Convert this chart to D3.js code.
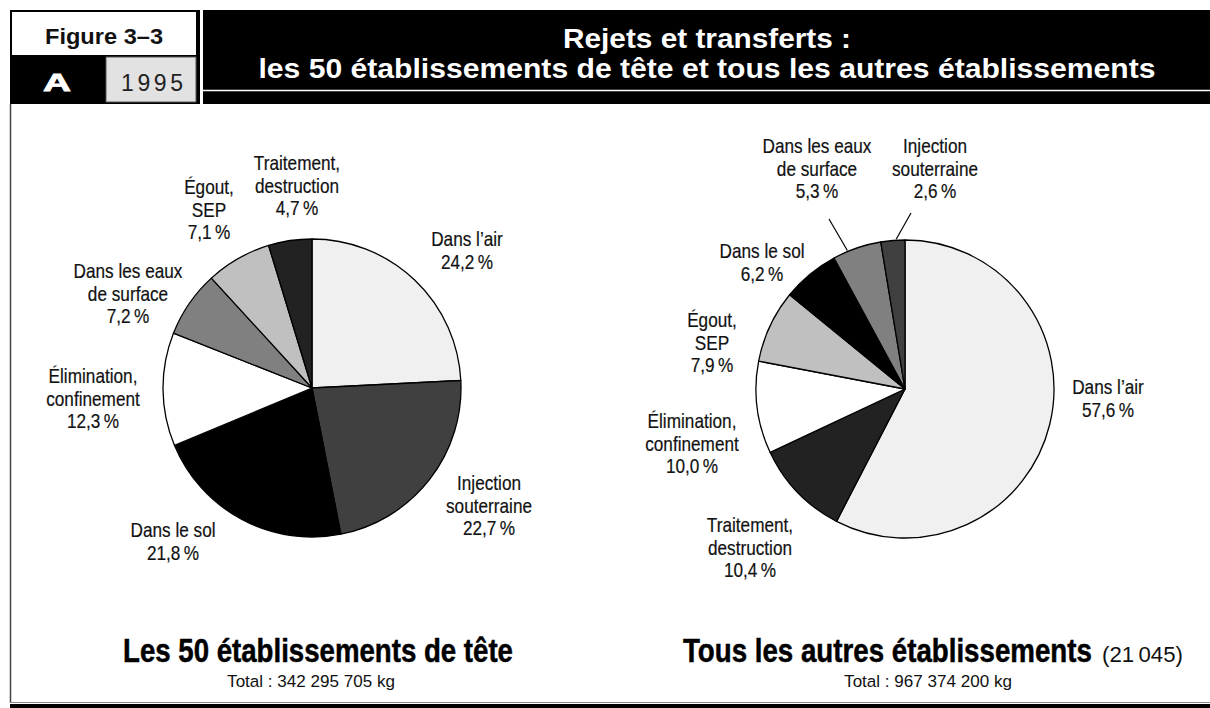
<!DOCTYPE html>
<html>
<head>
<meta charset="utf-8">
<script src="https://cdn.jsdelivr.net/npm/d3@7"></script>
<style>
  body { margin: 0; background: #fff; }
  svg { display: block; }
  text { font-family: "Liberation Sans", Arial, sans-serif; }
</style>
</head>
<body>
<div id="chart"></div>
<script>
// categories (keys) and their printed labels
var categoryKeys = ["air", "injection", "sol", "elimination", "eaux", "egout", "traitement"];
var categoryLines = {
  air: ["Dans l\u2019air"],
  injection: ["Injection", "souterraine"],
  sol: ["Dans le sol"],
  elimination: ["\u00c9limination,", "confinement"],
  eaux: ["Dans les eaux", "de surface"],
  egout: ["\u00c9gout,", "SEP"],
  traitement: ["Traitement,", "destruction"]
};
var categoryFills = ["#f0f0f0", "#404040", "#000000", "#ffffff", "#808080", "#c0c0c0", "#222222"];

// left pie: the 50 top facilities (clockwise from 12 o'clock)
var topOrder = ["air", "injection", "sol", "elimination", "eaux", "egout", "traitement"];
var topValues = [24.2, 22.7, 21.8, 12.3, 7.2, 7.1, 4.7];

// right pie: all other facilities
var otherOrder = ["air", "traitement", "elimination", "egout", "sol", "eaux", "injection"];
var otherValues = [57.6, 10.4, 10.0, 7.9, 6.2, 5.3, 2.6];

var titleLines = ["Rejets et transferts :", "les 50 \u00e9tablissements de t\u00eate et tous les autres \u00e9tablissements"];
var pieTitles = ["Les 50 \u00e9tablissements de t\u00eate", "Tous les autres \u00e9tablissements"];
var pieTitleExtra = ["", "(21\u2009045)"];
var pieTotals = ["Total : 342 295 705 kg", "Total : 967 374 200 kg"];

var W = 1210, H = 708, R = 149;

// label anchors (x centre, first baseline)
var layouts = [
  {
    cx: 312, cy: 388,
    labels: {
      air: [467, 246], injection: [489, 490], sol: [173, 537], elimination: [93, 383],
      eaux: [128, 278], egout: [209, 194], traitement: [297, 170]
    },
    leaders: {},
    title: { x: 318, anchor: "middle", len: 390 },
    extra: null,
    total: 311
  },
  {
    cx: 905, cy: 389,
    labels: {
      air: [1108, 394], traitement: [750, 532], elimination: [692, 428], egout: [712, 327],
      sol: [762, 258], eaux: [817, 153], injection: [935, 153]
    },
    // outer end of the leader, and angular nudge (deg) of inner end
    leaders: { eaux: [829, 219, -3.7], injection: [911, 213, 1.3] },
    title: { x: 683, anchor: "start", len: 409 },
    extra: { x: 1102, len: 81 },
    total: 928
  }
];

var color = d3.scaleOrdinal().domain(categoryKeys).range(categoryFills);
var pct = function (v) { return d3.format(".1f")(v).replace(".", ",") + "\u2009%"; };

// squeeze a text horizontally (condensed face look); k = factor, or target width when w is given
function condense(sel, k, w) {
  sel.each(function () {
    var t = d3.select(this),
      x = +t.attr("x"),
      y = +t.attr("y"),
      n = this.getComputedTextLength(),
      s = w ? w / n : k;
    t.attr("x", 0).attr("y", 0)
      .attr("transform", "translate(" + x + "," + y + ") scale(" + s + ",1)");
  });
  return sel;
}

var svg = d3.select("#chart").append("svg")
  .attr("width", W)
  .attr("height", H);

// ---- header ----
var head = svg.append("g");
head.append("rect").attr("x", 10).attr("y", 10).attr("width", 190).attr("height", 94).attr("fill", "#000");
head.append("rect").attr("x", 12).attr("y", 12).attr("width", 184).attr("height", 43).attr("fill", "#fff");
head.append("rect").attr("x", 106).attr("y", 57).attr("width", 90).attr("height", 45)
  .attr("fill", "#e2e2e2").attr("stroke", "#555").attr("stroke-width", 1);
head.append("rect").attr("x", 203).attr("y", 10).attr("width", W - 203).attr("height", 94).attr("fill", "#000");
head.append("line").attr("x1", 203).attr("x2", W).attr("y1", 90.5).attr("y2", 90.5)
  .attr("stroke", "#fff").attr("stroke-width", 1.5);

head.append("text").attr("x", 104).attr("y", 44).attr("text-anchor", "middle")
  .attr("textLength", 118).attr("lengthAdjust", "spacingAndGlyphs")
  .style("font-weight", "bold").style("font-size", "22px").attr("fill", "#111").text("Figure 3\u20133");
head.append("text").attr("x", 43).attr("y", 91).attr("textLength", 28).attr("lengthAdjust", "spacingAndGlyphs")
  .style("font-weight", "900").style("font-size", "24px").attr("fill", "#fff")
  .attr("stroke", "#fff").attr("stroke-width", 0.8).text("A");
head.append("text").attr("x", 121).attr("y", 91).attr("textLength", 62).attr("lengthAdjust", "spacing")
  .style("font-size", "23px").attr("fill", "#222").text("1995");

var titleLens = [288, 897];
head.selectAll("text.title").data(titleLines).enter().append("text")
  .attr("class", "title")
  .attr("x", 707)
  .attr("y", function (d, i) { return 48 + i * 30; })
  .attr("text-anchor", "middle")
  .attr("textLength", function (d, i) { return titleLens[i]; })
  .attr("lengthAdjust", "spacingAndGlyphs")
  .style("font-weight", "bold")
  .style("font-size", "27px").attr("fill", "#fff")
  .text(function (d) { return d; });

// ---- frame ----
svg.append("line").attr("x1", 10.5).attr("x2", 10.5).attr("y1", 104).attr("y2", 703)
  .attr("stroke", "#444").attr("stroke-width", 1.5);
svg.append("line").attr("x1", 10).attr("x2", W).attr("y1", 702.5).attr("y2", 702.5)
  .attr("stroke", "#888").attr("stroke-width", 1);
svg.append("rect").attr("x", 10).attr("y", 704).attr("width", W - 10).attr("height", 4).attr("fill", "#000");

// ---- pies ----
var pie = d3.pie().sort(null).value(function (d) { return d.value; });
var arc = d3.arc().innerRadius(0).outerRadius(R);

function drawPie(order, values, lay, idx) {
  var data = order.map(function (k, i) { return { key: k, value: values[i] }; });
  var arcs = pie(data);
  var g = svg.append("g").attr("transform", "translate(" + lay.cx + "," + lay.cy + ")");

  g.selectAll("path").data(arcs).enter().append("path")
    .attr("d", arc)
    .attr("fill", function (d) { return color(d.data.key); })
    .attr("stroke", "#000")
    .attr("stroke-width", 1.3)
    .attr("stroke-linejoin", "round");

  // labels
  arcs.forEach(function (a) {
    var pos = lay.labels[a.data.key];
    var lines = categoryLines[a.data.key].concat([pct(a.data.value)]);
    var lt = svg.append("g").selectAll("text").data(lines).enter().append("text")
      .attr("x", pos[0])
      .attr("y", function (d, j) { return pos[1] + j * 22.5; })
      .attr("text-anchor", "middle")
      .style("font-size", "20px")
      .attr("fill", "#111")
      .attr("stroke", "#111").attr("stroke-width", 0.2)
      .text(function (d) { return d; });
    condense(lt, 0.86);

    var ld = lay.leaders[a.data.key];
    if (ld) {
      var ang = (a.startAngle + a.endAngle) / 2 + ld[2] * Math.PI / 180;
      svg.append("line")
        .attr("x1", ld[0]).attr("y1", ld[1])
        .attr("x2", lay.cx + (R + 1) * Math.sin(ang))
        .attr("y2", lay.cy - (R + 1) * Math.cos(ang))
        .attr("stroke", "#000").attr("stroke-width", 1.2);
    }
  });

  // titles under pie
  var tt = svg.append("text").attr("x", lay.title.x).attr("y", 662)
    .attr("text-anchor", lay.title.anchor)
    .style("font-weight", "bold").style("font-size", "33px").attr("fill", "#000")
    .attr("stroke", "#000").attr("stroke-width", 0.5)
    .text(pieTitles[idx]);
  condense(tt, 1, lay.title.len);
  if (lay.extra) {
    var ex = svg.append("text").attr("x", lay.extra.x).attr("y", 662)
      .style("font-size", "22px").attr("fill", "#111").text(pieTitleExtra[idx]);
    condense(ex, 1, lay.extra.len);
  }
  var tot = svg.append("text").attr("x", lay.total).attr("y", 687)
    .attr("text-anchor", "middle")
    .style("font-size", "17px").attr("fill", "#111")
    .text(pieTotals[idx]);
  condense(tot, 1, 168);
}

drawPie(topOrder, topValues, layouts[0], 0);
drawPie(otherOrder, otherValues, layouts[1], 1);
</script>
</body>
</html>
